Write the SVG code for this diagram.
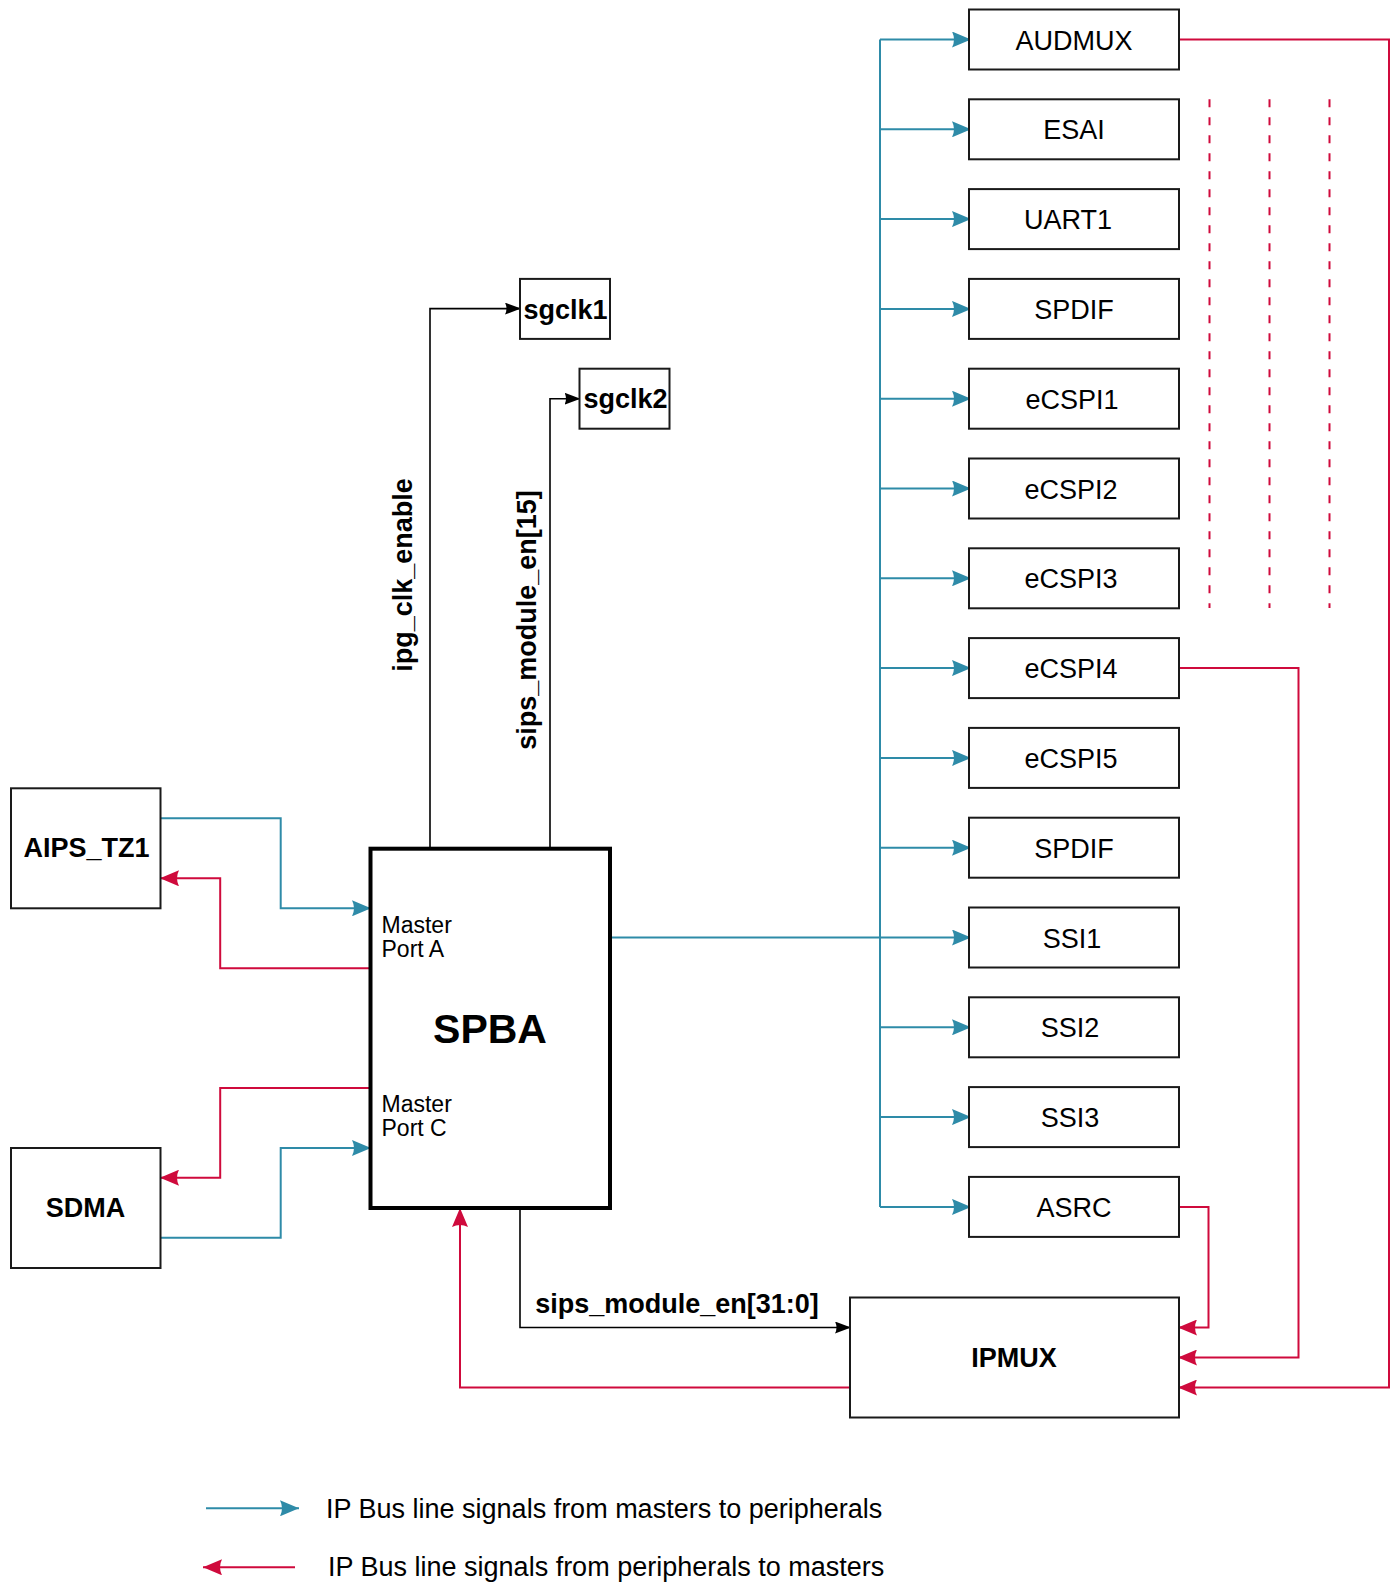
<svg xmlns="http://www.w3.org/2000/svg" width="1394" height="1583" viewBox="0 0 1394 1583">
<style>
  .box { fill: #ffffff; stroke: #1a1a1a; stroke-width: 2; }
  .thick { fill: #ffffff; stroke: #000000; stroke-width: 4; }
  .lbl { font-family: "Liberation Sans", Arial, sans-serif; font-size: 27px; fill: #000; text-anchor: middle; }
  .blbl { font-family: "Liberation Sans", Arial, sans-serif; font-size: 27px; font-weight: bold; fill: #000; text-anchor: middle; }
  .small { font-family: "Liberation Sans", Arial, sans-serif; font-size: 23px; fill: #000; }
  .big { font-family: "Liberation Sans", Arial, sans-serif; font-size: 41px; font-weight: bold; fill: #000; text-anchor: middle; }
  .leg { font-family: "Liberation Sans", Arial, sans-serif; font-size: 27px; fill: #000; }
  .blue { fill: none; stroke: #2E8BA8; stroke-width: 2; }
  .red { fill: none; stroke: #CF0A3C; stroke-width: 2; }
  .blk { fill: none; stroke: #000000; stroke-width: 1.6; }
  .dash { fill: none; stroke: #CF0A3C; stroke-width: 2; stroke-dasharray: 8 10; }
</style>
<defs>
  <marker id="ab" viewBox="0 0 19 16" refX="19" refY="8" markerWidth="19" markerHeight="16" markerUnits="userSpaceOnUse" orient="auto">
    <path d="M0,0 L19,8 L0,16 Q4,8 0,0 Z" fill="#2E8BA8"/>
  </marker>
  <marker id="ar" viewBox="0 0 19 16" refX="19" refY="8" markerWidth="19" markerHeight="16" markerUnits="userSpaceOnUse" orient="auto">
    <path d="M0,0 L19,8 L0,16 Q4,8 0,0 Z" fill="#CF0A3C"/>
  </marker>
  <marker id="ak" viewBox="0 0 16 12" refX="16" refY="6" markerWidth="16" markerHeight="12" markerUnits="userSpaceOnUse" orient="auto">
    <path d="M0,0 L16,6 L0,12 Q3,6 0,0 Z" fill="#000000"/>
  </marker>
</defs>
<rect width="1394" height="1583" fill="#ffffff"/>

<g id="connectors">
  <!-- blue trunk to peripherals -->
  <path class="blue" d="M880,39.5 V1206.9"/>
  <path class="blue" marker-end="url(#ab)" d="M880,39.5 H971"/>
  <path class="blue" marker-end="url(#ab)" d="M880,129.3 H971"/>
  <path class="blue" marker-end="url(#ab)" d="M880,219.1 H971"/>
  <path class="blue" marker-end="url(#ab)" d="M880,308.9 H971"/>
  <path class="blue" marker-end="url(#ab)" d="M880,398.7 H971"/>
  <path class="blue" marker-end="url(#ab)" d="M880,488.5 H971"/>
  <path class="blue" marker-end="url(#ab)" d="M880,578.3 H971"/>
  <path class="blue" marker-end="url(#ab)" d="M880,668.1 H971"/>
  <path class="blue" marker-end="url(#ab)" d="M880,757.9 H971"/>
  <path class="blue" marker-end="url(#ab)" d="M880,847.7 H971"/>
  <path class="blue" marker-end="url(#ab)" d="M612,937.5 H971"/>
  <path class="blue" marker-end="url(#ab)" d="M880,1027.3 H971"/>
  <path class="blue" marker-end="url(#ab)" d="M880,1117.1 H971"/>
  <path class="blue" marker-end="url(#ab)" d="M880,1206.9 H971"/>

  <!-- masters to SPBA -->
  <path class="blue" marker-end="url(#ab)" d="M160.5,818.3 H280.7 V908.3 H371"/>
  <path class="red" marker-end="url(#ar)" d="M369,968.3 H220.2 V878.3 H160"/>
  <path class="red" marker-end="url(#ar)" d="M369,1088 H220.2 V1177.7 H160"/>
  <path class="blue" marker-end="url(#ab)" d="M160.5,1237.7 H280.7 V1148 H371"/>

  <!-- clock enables -->
  <path class="blk" marker-end="url(#ak)" d="M430,847 V308.6 H521"/>
  <path class="blk" marker-end="url(#ak)" d="M550,847 V398.7 H580.5"/>
  <path class="blk" marker-end="url(#ak)" d="M520,1210 V1327.5 H851"/>

  <!-- peripherals to IPMUX -->
  <path class="red" marker-end="url(#ar)" d="M1179,39.5 H1389 V1387.5 H1178"/>
  <path class="red" marker-end="url(#ar)" d="M1179,668.1 H1298.5 V1357.5 H1178"/>
  <path class="red" marker-end="url(#ar)" d="M1179,1206.9 H1208.5 V1327.5 H1178"/>

  <!-- IPMUX to SPBA -->
  <path class="red" marker-end="url(#ar)" d="M850,1387.5 H460 V1208"/>

  <!-- dashed continuation lines -->
  <path class="dash" d="M1209.5,99.3 V608"/>
  <path class="dash" d="M1269.5,99.3 V608"/>
  <path class="dash" d="M1329.5,99.3 V608"/>
</g>

<g id="aips_tz1">
  <rect class="box" x="11" y="788.3" width="149.5" height="120"/>
  <text class="blbl" x="86.5" y="857">AIPS_TZ1</text>
</g>
<g id="sdma">
  <rect class="box" x="11" y="1148" width="149.5" height="120"/>
  <text class="blbl" x="85.5" y="1217">SDMA</text>
</g>
<g id="spba">
  <rect class="thick" x="370.5" y="848.7" width="239.5" height="359.3"/>
  <text class="small" x="381.5" y="933">Master</text>
  <text class="small" x="381.5" y="957">Port A</text>
  <text class="big" x="490" y="1043">SPBA</text>
  <text class="small" x="381.5" y="1112">Master</text>
  <text class="small" x="381.5" y="1136">Port C</text>
</g>
<g id="sgclk1">
  <rect class="box" x="520" y="278.9" width="90" height="60"/>
  <text class="blbl" x="565.5" y="318.5">sgclk1</text>
</g>
<g id="sgclk2">
  <rect class="box" x="579.5" y="368.7" width="90" height="60"/>
  <text class="blbl" x="625.5" y="408.3">sgclk2</text>
</g>
<g id="labels">
  <text class="blbl" transform="translate(412,575) rotate(-90)">ipg_clk_enable</text>
  <text class="blbl" transform="translate(535.5,620) rotate(-90)">sips_module_en[15]</text>
  <text class="blbl" x="677" y="1312.5">sips_module_en[31:0]</text>
</g>

<g id="audmux"><rect class="box" x="969" y="9.5" width="210" height="60"/><text class="lbl" x="1074" y="49.5">AUDMUX</text></g>
<g id="esai"><rect class="box" x="969" y="99.3" width="210" height="60"/><text class="lbl" x="1074" y="139.3">ESAI</text></g>
<g id="uart1"><rect class="box" x="969" y="189.1" width="210" height="60"/><text class="lbl" x="1068" y="229.1">UART1</text></g>
<g id="spdif1"><rect class="box" x="969" y="278.9" width="210" height="60"/><text class="lbl" x="1074" y="318.9">SPDIF</text></g>
<g id="ecspi1"><rect class="box" x="969" y="368.7" width="210" height="60"/><text class="lbl" x="1072" y="408.7">eCSPI1</text></g>
<g id="ecspi2"><rect class="box" x="969" y="458.5" width="210" height="60"/><text class="lbl" x="1071" y="498.5">eCSPI2</text></g>
<g id="ecspi3"><rect class="box" x="969" y="548.3" width="210" height="60"/><text class="lbl" x="1071" y="588.3">eCSPI3</text></g>
<g id="ecspi4"><rect class="box" x="969" y="638.1" width="210" height="60"/><text class="lbl" x="1071" y="678.1">eCSPI4</text></g>
<g id="ecspi5"><rect class="box" x="969" y="727.9" width="210" height="60"/><text class="lbl" x="1071" y="767.9">eCSPI5</text></g>
<g id="spdif2"><rect class="box" x="969" y="817.7" width="210" height="60"/><text class="lbl" x="1074" y="857.7">SPDIF</text></g>
<g id="ssi1"><rect class="box" x="969" y="907.5" width="210" height="60"/><text class="lbl" x="1072" y="947.5">SSI1</text></g>
<g id="ssi2"><rect class="box" x="969" y="997.3" width="210" height="60"/><text class="lbl" x="1070" y="1037.3">SSI2</text></g>
<g id="ssi3"><rect class="box" x="969" y="1087.1" width="210" height="60"/><text class="lbl" x="1070" y="1127.1">SSI3</text></g>
<g id="asrc"><rect class="box" x="969" y="1176.9" width="210" height="60"/><text class="lbl" x="1074" y="1216.9">ASRC</text></g>

<g id="ipmux">
  <rect class="box" x="850" y="1297.5" width="329" height="120"/>
  <text class="blbl" x="1014" y="1367">IPMUX</text>
</g>

<g id="legend">
  <path class="blue" marker-end="url(#ab)" d="M206,1508.3 H299"/>
  <text class="leg" x="326" y="1518">IP Bus line signals from masters to peripherals</text>
  <path class="red" marker-end="url(#ar)" d="M295,1567.3 H203"/>
  <text class="leg" x="328" y="1576">IP Bus line signals from peripherals to masters</text>
</g>
</svg>
